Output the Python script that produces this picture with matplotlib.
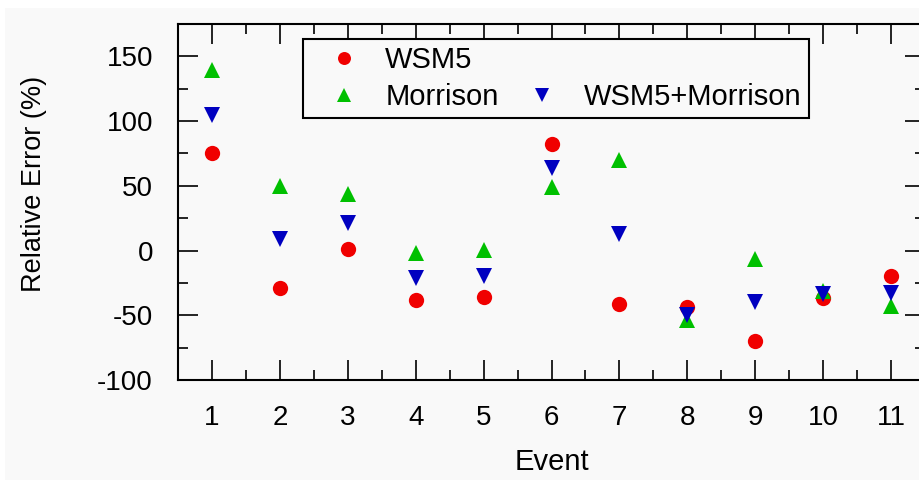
import numpy as np
import matplotlib
matplotlib.use('Agg')
import matplotlib.pyplot as plt
from matplotlib.lines import Line2D
from matplotlib.patches import Rectangle
from matplotlib.ticker import MultipleLocator

plt.rcParams['font.family'] = ['Liberation Sans', 'DejaVu Sans']
plt.rcParams['axes.unicode_minus'] = False

# relative error (%) per event
events = [1, 2, 3, 4, 5, 6, 7, 8, 9, 10, 11]
wsm5 = [75, -29, 1, -38, -36, 82.5, -41.5, -43.5, -69.5, -36.5, -19.5]
morrison = [139.5, 50, 44, -2, 0.5, 49, 70, -53.5, -6.5, -31, -42.5]
wsm5_morrison = [105, 9, 21, -21.5, -19.5, 64, 12.5, -49.5, -39.5, -33.5, -32.5]

fig = plt.figure(figsize=(9.19, 4.82), dpi=100, facecolor='white')
# light grey page behind the plot, leaving a thin white margin
fig.patches.append(Rectangle((5/919, 2/482), 1, 1 - 10/482, transform=fig.transFigure,
                             facecolor='#f9f9f9', edgecolor='none', zorder=-10))

ax = fig.add_axes([178/919, 102/482, 747/919, 356/482])
ax.set_facecolor('none')

ms = 12
ax.plot(events, wsm5, 'o', color='#f00000', markersize=ms - 1, markeredgewidth=0, label='WSM5')
ax.plot(events, morrison, '^', color='#00c000', markersize=ms, markeredgewidth=0, label='Morrison')
ax.plot(events, wsm5_morrison, 'v', color='#0000c0', markersize=ms, markeredgewidth=0, label='WSM5+Morrison')

ax.set_xlim(0.5, 11.5)
ax.set_ylim(-100, 175)
ax.set_xticks(events)
ax.set_yticks([-100, -50, 0, 50, 100, 150])
ax.xaxis.set_minor_locator(MultipleLocator(0.5))
ax.yaxis.set_minor_locator(MultipleLocator(25))
ax.tick_params(which='both', direction='in', top=True, right=True, width=1.2, labelsize=20)
ax.tick_params(which='major', length=14.4)
ax.tick_params(which='minor', length=7.2)
ax.tick_params(axis='y', pad=18)
ax.tick_params(axis='x', pad=18)
for s in ax.spines.values():
    s.set_linewidth(1.5)

ax.set_xlabel('Event', fontsize=21)
ax.xaxis.set_label_coords(0.5, -0.19)
ax.set_ylabel('Relative Error (%)', fontsize=19.5)
ax.yaxis.set_label_coords(-0.175, 0.552)

h, l = ax.get_legend_handles_labels()
blank = Line2D([], [], linestyle='none', marker='none')
leg = fig.legend([h[0], h[1], blank, h[2]], [l[0], l[1], '', l[2]], ncol=2,
                 loc='upper left', bbox_to_anchor=(303/919, 1 - 39/482),
                 fontsize=21, frameon=True, fancybox=False, borderpad=0.25,
                 handlelength=2.3, handletextpad=0.27, columnspacing=0.35,
                 labelspacing=0.3, borderaxespad=0, markerscale=0.85)
leg.get_frame().set_edgecolor('black')
leg.get_frame().set_linewidth(1.5)
leg.get_frame().set_facecolor('#f9f9f9')
leg.get_frame().set_alpha(1)

fig.savefig('out.png', dpi=100, facecolor=fig.get_facecolor())
